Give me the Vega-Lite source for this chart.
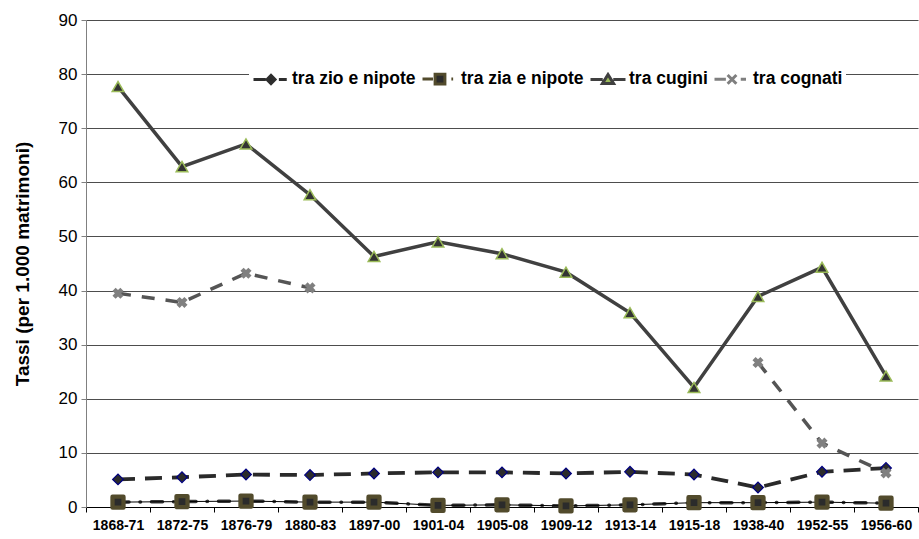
{
  "$schema": "https://vega.github.io/schema/vega-lite/v6.json",
  "autosize": "none",
  "width": 832,
  "height": 487,
  "padding": {"left": 86, "top": 20, "right": 1, "bottom": 32},
  "background": "white",
  "config": {
    "font": "Liberation Sans",
    "view": {"stroke": null},
    "legend": {"symbolOpacity": 1}
  },
  "data": {
    "values": [
      {"period": "1868-71", "series": "tra zio e nipote", "value": 5.1},
      {"period": "1872-75", "series": "tra zio e nipote", "value": 5.5},
      {"period": "1876-79", "series": "tra zio e nipote", "value": 6.0},
      {"period": "1880-83", "series": "tra zio e nipote", "value": 5.9},
      {"period": "1897-00", "series": "tra zio e nipote", "value": 6.2},
      {"period": "1901-04", "series": "tra zio e nipote", "value": 6.4},
      {"period": "1905-08", "series": "tra zio e nipote", "value": 6.4},
      {"period": "1909-12", "series": "tra zio e nipote", "value": 6.2},
      {"period": "1913-14", "series": "tra zio e nipote", "value": 6.5},
      {"period": "1915-18", "series": "tra zio e nipote", "value": 6.0},
      {"period": "1938-40", "series": "tra zio e nipote", "value": 3.6},
      {"period": "1952-55", "series": "tra zio e nipote", "value": 6.5},
      {"period": "1956-60", "series": "tra zio e nipote", "value": 7.2},
      {"period": "1868-71", "series": "tra zia e nipote", "value": 0.9},
      {"period": "1872-75", "series": "tra zia e nipote", "value": 1.0},
      {"period": "1876-79", "series": "tra zia e nipote", "value": 1.1},
      {"period": "1880-83", "series": "tra zia e nipote", "value": 0.9},
      {"period": "1897-00", "series": "tra zia e nipote", "value": 0.9},
      {"period": "1901-04", "series": "tra zia e nipote", "value": 0.3},
      {"period": "1905-08", "series": "tra zia e nipote", "value": 0.4},
      {"period": "1909-12", "series": "tra zia e nipote", "value": 0.2},
      {"period": "1913-14", "series": "tra zia e nipote", "value": 0.4},
      {"period": "1915-18", "series": "tra zia e nipote", "value": 0.8},
      {"period": "1938-40", "series": "tra zia e nipote", "value": 0.8},
      {"period": "1952-55", "series": "tra zia e nipote", "value": 0.9},
      {"period": "1956-60", "series": "tra zia e nipote", "value": 0.7},
      {"period": "1868-71", "series": "tra cugini", "value": 77.7},
      {"period": "1872-75", "series": "tra cugini", "value": 62.9},
      {"period": "1876-79", "series": "tra cugini", "value": 67.1},
      {"period": "1880-83", "series": "tra cugini", "value": 57.7},
      {"period": "1897-00", "series": "tra cugini", "value": 46.3},
      {"period": "1901-04", "series": "tra cugini", "value": 49.0},
      {"period": "1905-08", "series": "tra cugini", "value": 46.8},
      {"period": "1909-12", "series": "tra cugini", "value": 43.4},
      {"period": "1913-14", "series": "tra cugini", "value": 35.9},
      {"period": "1915-18", "series": "tra cugini", "value": 22.1},
      {"period": "1938-40", "series": "tra cugini", "value": 38.9},
      {"period": "1952-55", "series": "tra cugini", "value": 44.3},
      {"period": "1956-60", "series": "tra cugini", "value": 24.2},
      {"period": "1868-71", "series": "tra cognati", "value": 39.5},
      {"period": "1872-75", "series": "tra cognati", "value": 37.8},
      {"period": "1876-79", "series": "tra cognati", "value": 43.2},
      {"period": "1880-83", "series": "tra cognati", "value": 40.5},
      {"period": "1897-00", "series": "tra cognati", "value": null},
      {"period": "1901-04", "series": "tra cognati", "value": null},
      {"period": "1905-08", "series": "tra cognati", "value": null},
      {"period": "1909-12", "series": "tra cognati", "value": null},
      {"period": "1913-14", "series": "tra cognati", "value": null},
      {"period": "1915-18", "series": "tra cognati", "value": null},
      {"period": "1938-40", "series": "tra cognati", "value": 26.7},
      {"period": "1952-55", "series": "tra cognati", "value": 11.8},
      {"period": "1956-60", "series": "tra cognati", "value": 6.3}
    ]
  },
  "encoding": {
    "x": {
      "field": "period",
      "type": "nominal",
      "sort": null,
      "bandPosition": 0.5,
      "scale": {"type": "band", "paddingInner": 0, "paddingOuter": 0},
      "axis": {
        "title": null,
        "labelAngle": 0,
        "labelFontSize": 14,
        "labelFontWeight": "bold",
        "labelColor": "black",
        "labelPadding": 6,
        "labelOverlap": false,
        "tickBand": "extent",
        "tickSize": 5,
        "tickColor": "black",
        "domainColor": "black",
        "grid": false
      }
    },
    "y": {
      "field": "value",
      "type": "quantitative",
      "scale": {"domain": [0, 90], "nice": false},
      "axis": {
        "title": "Tassi (per 1.000 matrimoni)",
        "titleFontSize": 19,
        "titleFontWeight": "bold",
        "titleColor": "black",
        "titlePadding": 26,
        "values": [0, 10, 20, 30, 40, 50, 60, 70, 80, 90],
        "labelFontSize": 17,
        "labelColor": "black",
        "labelPadding": 4,
        "tickSize": 5,
        "tickColor": "#808080",
        "domainColor": "#808080",
        "grid": true,
        "gridColor": "#4d4d4d",
        "gridWidth": 1
      }
    }
  },
  "layer": [
    {
      "transform": [{"filter": "datum.series === 'tra zio e nipote'"}],
      "mark": {"type": "line", "stroke": "#2a2a2a", "strokeWidth": 3.8, "strokeDash": [17, 10]}
    },
    {
      "transform": [{"filter": "datum.series === 'tra zia e nipote'"}],
      "mark": {"type": "line", "stroke": "#383838", "strokeWidth": 3.5, "strokeCap": "round", "strokeDash": [11, 11, 0.5, 11]}
    },
    {
      "transform": [{"filter": "datum.series === 'tra zia e nipote'"}],
      "mark": {"type": "line", "stroke": "black", "strokeWidth": 1}
    },
    {
      "transform": [{"filter": "datum.series === 'tra cugini'"}],
      "mark": {"type": "line", "stroke": "#404040", "strokeWidth": 3.5}
    },
    {
      "transform": [{"filter": "datum.series === 'tra cognati'"}],
      "mark": {"type": "line", "stroke": "#555555", "strokeWidth": 3.5, "strokeDash": [13, 11], "invalid": "break-paths-show-domains"}
    },
    {
      "transform": [{"filter": "datum.series === 'tra zio e nipote'"}],
      "mark": {"type": "point", "shape": "diamond", "size": 115, "filled": true, "fill": "#2b2b2b", "stroke": "#000080", "strokeWidth": 1.2, "opacity": 1}
    },
    {
      "transform": [{"filter": "datum.series === 'tra zia e nipote'"}],
      "mark": {"type": "point", "shape": "square", "size": 121, "filled": true, "fill": "#2b2b2b", "stroke": "#524b2c", "strokeWidth": 4.3, "strokeJoin": "round", "opacity": 1}
    },
    {
      "transform": [{"filter": "datum.series === 'tra cugini'"}],
      "mark": {"type": "point", "shape": "triangle-up", "size": 135, "filled": true, "fill": "#333333", "stroke": "#9bbb59", "strokeWidth": 1.5, "opacity": 1}
    },
    {
      "transform": [{"filter": "datum.series === 'tra cognati'"}],
      "mark": {"type": "point", "shape": "cross", "angle": 45, "size": 125, "filled": true, "fill": "#808080", "strokeWidth": 0, "opacity": 1}
    },
    {
      "mark": {"type": "point", "filled": true, "opacity": 0, "strokeWidth": 3},
      "encoding": {
        "shape": {
          "field": "series",
          "type": "nominal",
          "title": null,
          "scale": {
            "domain": ["tra zio e nipote", "tra zia e nipote", "tra cugini", "tra cognati"],
            "range": [
              "M-1,0L-0.3,0M0.45,0L0.9,0M-0.23,0L0,-0.23L0.23,0L0,0.23Z",
              "M-1,0L-0.4,0M0.65,0L0.75,0M-0.28,-0.28L0.28,-0.28L0.28,0.28L-0.28,0.28Z",
              "M-1,0L-0.3,0M0.3,0L1,0M0,-0.28L0.32,0.24L-0.32,0.24Z",
              "M-1,0L-0.35,0M0.5,0L0.8,0M-0.25,-0.25L0.25,0.25M-0.25,0.25L0.25,-0.25"
            ]
          },
          "legend": {
            "title": null,
            "orient": "none",
            "legendX": 163,
            "legendY": 37,
            "direction": "horizontal",
            "fillColor": "white",
            "padding": 3,
            "columnPadding": 0,
            "labelOffset": 2,
            "symbolSize": 1225,
            "symbolStrokeWidth": 3,
            "symbolOpacity": 1,
            "labelFontSize": 17.5,
            "labelFontWeight": "bold",
            "labelColor": "black",
            "labelFont": "Liberation Sans",
            "labelLimit": 300
          }
        },
        "fill": {
          "field": "series",
          "type": "nominal",
          "title": null,
          "scale": {
            "domain": ["tra zio e nipote", "tra zia e nipote", "tra cugini", "tra cognati"],
            "range": ["#2b2b2b", "#2b2b2b", "#9bbb59", "#808080"]
          }
        },
        "stroke": {
          "field": "series",
          "type": "nominal",
          "title": null,
          "scale": {
            "domain": ["tra zio e nipote", "tra zia e nipote", "tra cugini", "tra cognati"],
            "range": ["#2e2e2e", "#524b2c", "#404040", "#7f7f7f"]
          }
        }
      }
    }
  ]
}
